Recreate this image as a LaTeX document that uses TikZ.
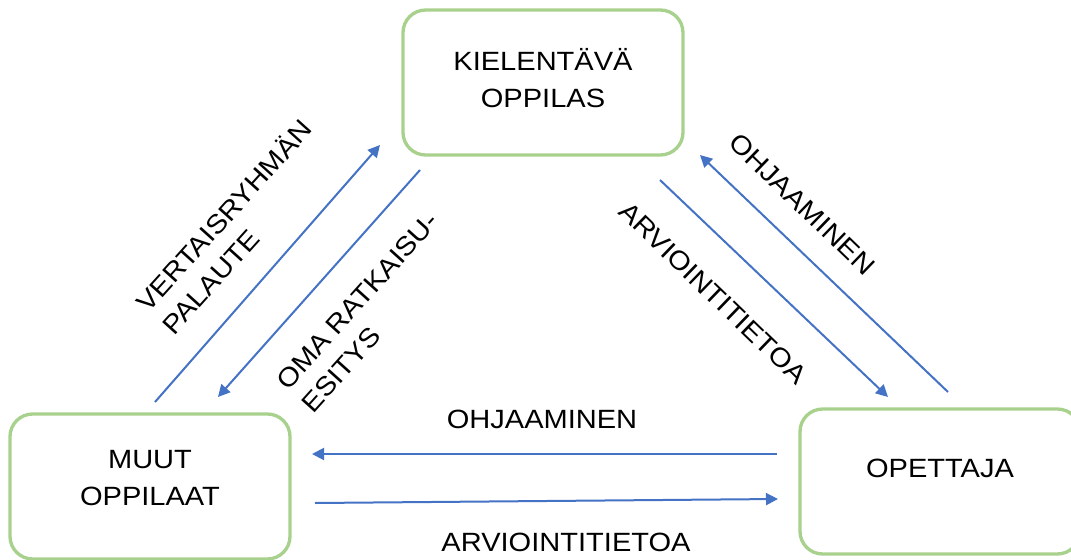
\documentclass[tikz,border=0pt]{standalone}
\usepackage{fontspec}
\setmainfont[FakeStretch=1.1]{Liberation Sans}
\usetikzlibrary{arrows.meta}

\definecolor{vertboite}{HTML}{A9D18E}
\definecolor{bleufleche}{HTML}{4472C4}

\tikzset{
  boite/.style={draw=vertboite, line width=2.5pt, rounded corners=17pt,
    minimum width=210pt, minimum height=108.75pt, inner sep=0pt,
    align=center, font=\fontsize{19.8pt}{27.5pt}\selectfont},
  fleche/.style={->, draw=bleufleche, line width=1.5pt},
  etiquette/.style={inner sep=0pt, font=\fontsize{19.8pt}{25.5pt}\selectfont}
}

\begin{document}
\begin{tikzpicture}[x=0.75pt, y=-0.75pt, >={Triangle[length=9pt, width=9pt]}]
  \useasboundingbox (0,0) rectangle (1071,560);

  % ==========================================
  % LES TROIS ACTEURS
  % ==========================================
  \node[boite, text depth=7pt] (kielentava) at (543,82.5) {KIELENTÄVÄ\\OPPILAS};
  \node[boite, text depth=12.5pt] (muut) at (150,486.5) {MUUT\\OPPILAAT};
  \node[boite, text depth=19.5pt] (opettaja) at (940,481.5) {OPETTAJA};

  % ==========================================
  % COTE GAUCHE : MUUT OPPILAAT <-> KIELENTAVA
  % ==========================================
  \coordinate (vp1) at (155,402);
  \coordinate (vp2) at (380,145);
  \draw[fleche] (vp1) -- (vp2);
  \coordinate (om1) at (420,170);
  \coordinate (om2) at (218,397);
  \draw[fleche] (om1) -- (om2);

  \node[etiquette, rotate=48, anchor=north west, align=left] (palaute) at (132,299) {VERTAISRYHMÄN\\PALAUTE};
  \node[etiquette, rotate=48, anchor=north west, align=left] (esitys) at (274,379) {OMA RATKAISU-\\ESITYS};

  % ==========================================
  % COTE DROIT : KIELENTAVA <-> OPETTAJA
  % ==========================================
  \coordinate (ar1) at (660,180);
  \coordinate (ar2) at (888,397);
  \draw[fleche] (ar1) -- (ar2);
  \coordinate (oh1) at (948,392);
  \coordinate (oh2) at (700,155);
  \draw[fleche] (oh1) -- (oh2);

  \node[etiquette, rotate=-44] (arvio1) at (713,293) {ARVIOINTITIETOA};
  \node[etiquette, rotate=-44] (ohjaus1) at (802,204) {OHJAAMINEN};

  % ==========================================
  % BAS : OPETTAJA <-> MUUT OPPILAAT
  % ==========================================
  \coordinate (oh3) at (777,454);
  \coordinate (oh4) at (312,454);
  \draw[fleche] (oh3) -- (oh4);
  \coordinate (ar3) at (315,503);
  \coordinate (ar4) at (778,499);
  \draw[fleche] (ar3) -- (ar4);

  \node[etiquette] (ohjaus2) at (542,419) {OHJAAMINEN};
  \node[etiquette] (arvio2) at (566,542) {ARVIOINTITIETOA};

\end{tikzpicture}
\end{document}
